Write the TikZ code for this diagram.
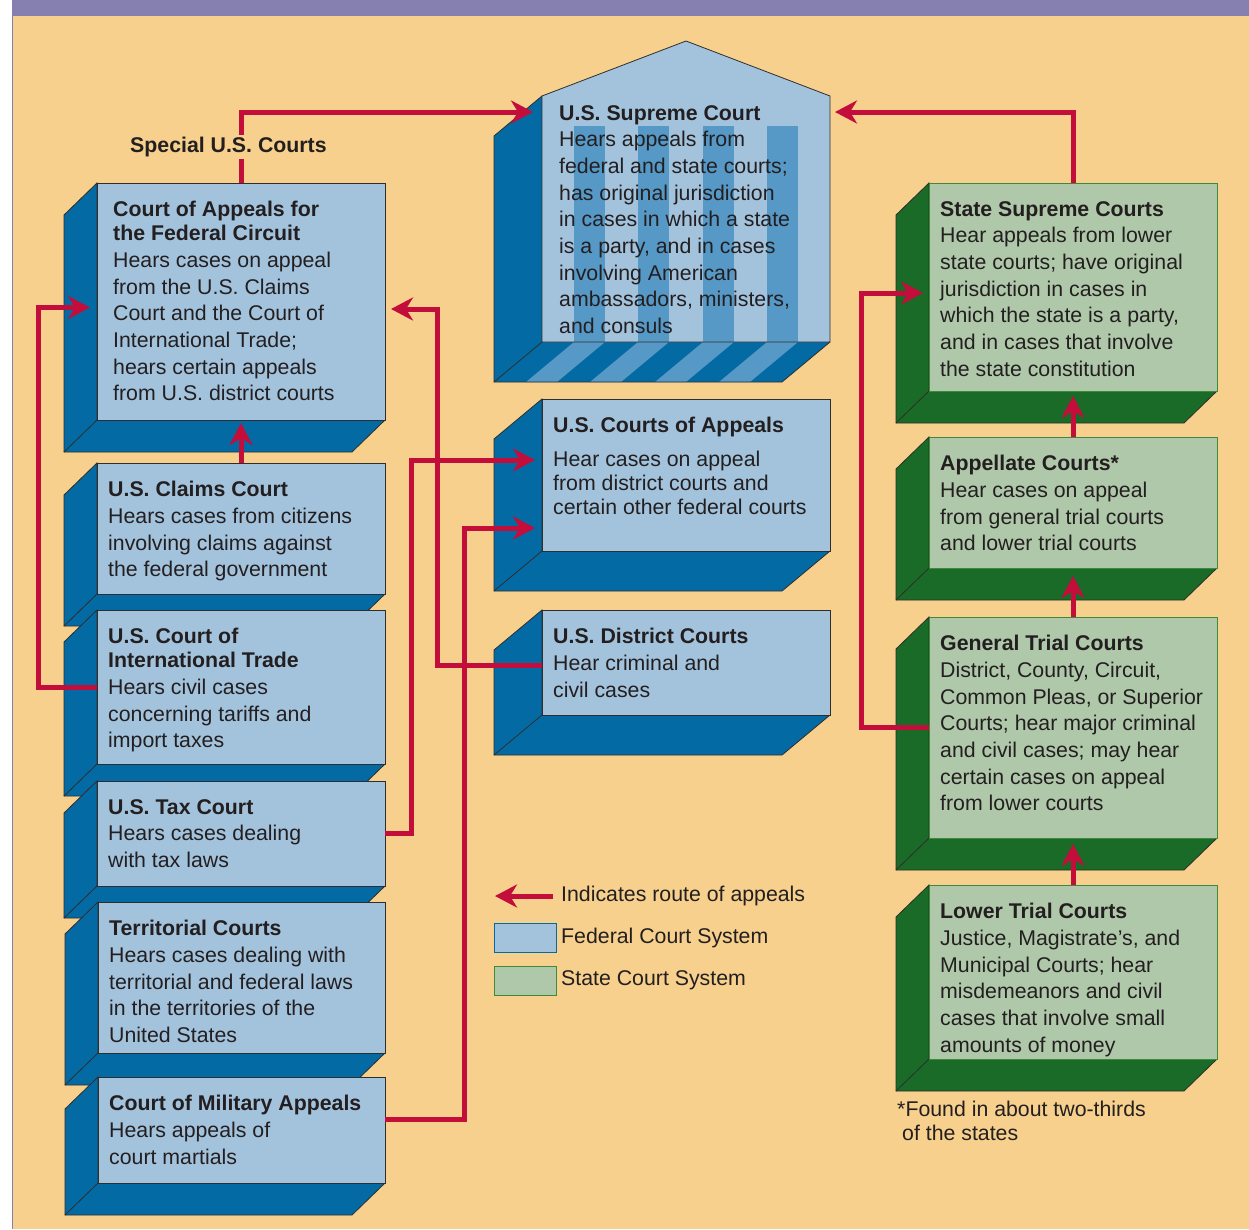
\documentclass[tikz,border=0pt]{standalone}
\usepackage{fontspec}
\setmainfont{Liberation Sans}
\usetikzlibrary{arrows.meta,positioning}

\definecolor{paper}{HTML}{F6D08C}
\definecolor{band}{HTML}{8680B0}
\definecolor{fedlight}{HTML}{A3C3DD}
\definecolor{feddark}{HTML}{036AA4}
\definecolor{pillar}{HTML}{5698C6}
\definecolor{stlight}{HTML}{B0C8AA}
\definecolor{stdark}{HTML}{1A6B27}
\definecolor{stedge}{HTML}{3E8A3A}
\definecolor{edge}{HTML}{2E2E2E}
\definecolor{appealred}{HTML}{C30D3A}
\definecolor{ink}{HTML}{231F20}

\begin{document}
\begin{tikzpicture}[x=1pt,y=-1pt,
  fedface/.style={fill=fedlight,draw=edge,line width=0.8pt,inner sep=0pt,outer sep=0pt},
  fedside/.style={fill=feddark,draw=edge,line width=0.8pt},
  stface/.style={fill=stlight,draw=stedge,line width=0.8pt,inner sep=0pt,outer sep=0pt},
  stside/.style={fill=stdark,draw=edge,line width=0.8pt},
  courttext/.style={anchor=north west,inner sep=0pt,align=left,text=ink,
    font=\fontsize{21.3}{26.7}\selectfont},
  appeal/.style={draw=appealred,line width=5pt,-{Stealth[length=22pt,width=23pt,inset=7pt]}}]
  \useasboundingbox (0,0) rectangle (1249,1229);
  \fill[white] (0,0) rectangle (1249,1229);
  \fill[paper] (12,16) rectangle (1249,1229);
  \fill[band] (12,0) rectangle (1249,16);
  \draw[band,line width=1pt] (12,16) -- (12,1229);

  % box: name, fed/st, x1, y1, x2, y2, text
  \def\court#1#2#3#4#5#6#7{
    \filldraw[#2side] (#3,#4) -- ++(-\depthx,\depthy) -- (#3-\depthx,#6+\depthy)
      -- (#5-\depthx,#6+\depthy) -- (#5,#6) -- (#3,#6) -- cycle;
    \draw[#2side] (#3,#6) -- ++(-\depthx,\depthy);
    \node[#2face,minimum width=#5-#3,minimum height=#6-#4,anchor=north west] (#1) at (#3,#4) {};
    \node[courttext] (#1txt) at ([shift={(\textdx,18)}]#1.north west) {#7};
  }

  % special courts
  \def\depthx{33} \def\depthy{32}
  \def\textdx{16}
  \court{fc}{fed}{97}{183}{385}{420}{\textbf{Court of Appeals for}\\[-2.7pt]\textbf{the Federal Circuit}\\
    Hears cases on appeal\\from the U.S. Claims\\Court and the Court of\\International Trade;\\
    hears certain appeals\\from U.S. district courts}
  \def\textdx{11}
  \court{claims}{fed}{97}{463}{385}{594}{\textbf{U.S. Claims Court}\\Hears cases from citizens\\
    involving claims against\\the federal government}
  \court{trade}{fed}{97}{610}{385}{764}{\textbf{U.S. Court of}\\[-2.7pt]\textbf{International Trade}\\
    Hears civil cases\\concerning tariffs and\\import taxes}
  \court{tax}{fed}{97}{781}{385}{886}{\textbf{U.S. Tax Court}\\Hears cases dealing\\with tax laws}
  \court{terr}{fed}{98}{902}{385}{1053}{\textbf{Territorial Courts}\\Hears cases dealing with\\
    territorial and federal laws\\in the territories of the\\United States}
  \court{mil}{fed}{98}{1077}{385}{1183}{\textbf{Court of Military Appeals}\\Hears appeals of\\court martials}

  % supreme court
  \fill[feddark] (542,96) -- (494,136) -- (494,382) -- (782,382) -- (830,342) -- (542,342) -- cycle;
  \fill[fedlight] (542,96) -- (686,41) -- (830,96) -- (830,342) -- (542,342) -- cycle;
  \foreach \p in {574,638,703,767} {
    \fill[pillar] (\p,126) rectangle (\p+31,342);
    \fill[pillar] (\p,342) -- (\p+31,342) -- (\p-17,382) -- (\p-48,382) -- cycle;
  }
  \draw[edge,line width=0.8pt] (542,96) -- (494,136) -- (494,382) -- (782,382) -- (830,342);
  \draw[edge,line width=0.8pt] (542,96) -- (686,41) -- (830,96) -- (830,342) -- (542,342) -- cycle;
  \draw[edge,line width=0.8pt] (542,342) -- (494,382);
  \node[inner sep=0pt,outer sep=0pt,minimum width=288,minimum height=246,anchor=north west] (sc) at (542,96) {};
  \node[courttext] (sctxt) at ([shift={(17,9)}]sc.north west) {\textbf{U.S. Supreme Court}\\
    Hears appeals from\\federal and state courts;\\has original jurisdiction\\in cases in which a state\\
    is a party, and in cases\\involving American\\ambassadors, ministers,\\and consuls};

  % federal courts
  \def\depthx{48} \def\depthy{40}
  \court{coa}{fed}{542}{399}{830}{551}{\textbf{U.S. Courts of Appeals}\\[7pt]Hear cases on appeal\\[-2.7pt]
    from district courts and\\[-2.7pt]certain other federal courts}
  \court{dc}{fed}{542}{610}{830}{715}{\textbf{U.S. District Courts}\\Hear criminal and\\civil cases}

  % state courts
  \def\depthx{33} \def\depthy{32}
  \court{ssc}{st}{929}{183}{1217}{391}{\textbf{State Supreme Courts}\\Hear appeals from lower\\
    state courts; have original\\jurisdiction in cases in\\which the state is a party,\\
    and in cases that involve\\the state constitution}
  \court{app}{st}{929}{437}{1217}{568}{\textbf{Appellate Courts*}\\Hear cases on appeal\\
    from general trial courts\\and lower trial courts}
  \court{gtc}{st}{929}{617}{1217}{838}{\textbf{General Trial Courts}\\District, County, Circuit,\\
    Common Pleas, or Superior\\Courts; hear major criminal\\and civil cases; may hear\\
    certain cases on appeal\\from lower courts}
  \court{ltc}{st}{929}{885}{1217}{1059}{\textbf{Lower Trial Courts}\\Justice, Magistrate’s, and\\
    Municipal Courts; hear\\misdemeanors and civil\\cases that involve small\\amounts of money}

  % legend
  \node[courttext,font=\fontsize{21.3}{24}\selectfont] (foot) at (897,1101)
    {*Found in about two-thirds\\\hspace*{5pt}of the states};
  \node[courttext,anchor=west] (legroute) at (561,896) {Indicates route of appeals};
  \node[fedface,draw=feddark,minimum width=62,minimum height=29,anchor=north west] (legfed) at (494,923) {};
  \node[courttext,right=5pt of legfed] (legfedtxt) {Federal Court System};
  \node[stface,minimum width=62,minimum height=29,anchor=north west] (legst) at (494,966) {};
  \node[courttext,right=5pt of legst] (legsttxt) {State Court System};

  % routes of appeal
  \draw[appeal] ([xshift=-8pt]legroute.west) -- ++(-58,0);
  \draw[appeal] (fc.north) |- ([shift={(-9,16)}]sc.north west);
  \draw[appeal] (ssc.north) |- ([shift={(5,16)}]sc.north east);
  \draw[appeal] (claims.north) -- ([shift={(0,3)}]fc.south);
  \draw[appeal] (trade.west) -- ++(-59,0) |- ([shift={(-7,6)}]fc.west);
  \draw[appeal] ([shift={(0,2.5)}]dc.west) -- ++(-105,0) |- ([shift={(6,7.5)}]fc.east);
  \draw[appeal] (tax.east) -- ++(26,0) |- ([shift={(-7,-15)}]coa.west);
  \draw[appeal] ([shift={(0,-11)}]mil.east) -- ++(79,0) |- ([shift={(-7,53)}]coa.west);
  \draw[appeal] (gtc.west) -- ++(-68,0) |- ([shift={(-6,6)}]ssc.west);
  \draw[appeal] (app.north) -- ([shift={(0,5)}]ssc.south);
  \draw[appeal] (gtc.north) -- ([shift={(0,8)}]app.south);
  \draw[appeal] (ltc.north) -- ([shift={(0,6)}]gtc.south);

  % label over the route line
  \node[courttext,anchor=west,fill=paper,inner sep=2pt] (special) at (128,147) {\textbf{Special U.S. Courts}};
\end{tikzpicture}
\end{document}
